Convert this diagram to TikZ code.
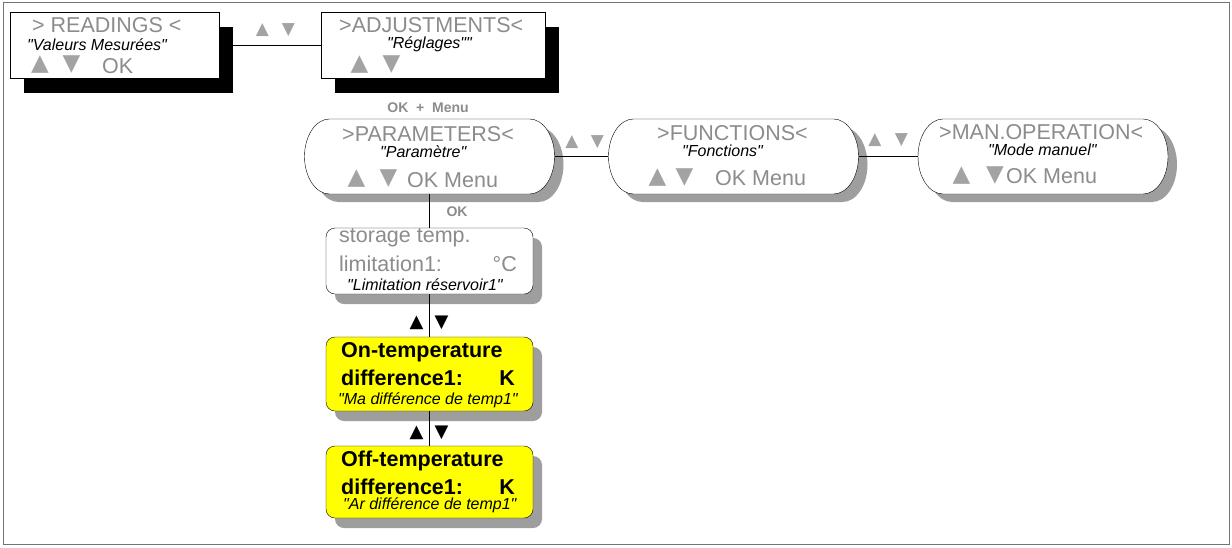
\documentclass[tikz,border=0pt]{standalone}
\usepackage{fontspec}
\setmainfont{Liberation Sans}[Ligatures=TeXOff]
\newfontfamily\symfont{DejaVu Sans}
\usetikzlibrary{shadows}

\definecolor{menugray}{gray}{0.55}
\definecolor{keygray}{gray}{0.64}
\definecolor{shadegray}{gray}{0.62}
\definecolor{lcdyellow}{RGB}{255,255,0}

\tikzset{
  topbox/.style={draw, fill=white, inner sep=0, minimum height=66pt,
    drop shadow={shadow xshift=14pt, shadow yshift=-15pt, fill=black, opacity=1}},
  menuoval/.style={inner sep=0, minimum width=250pt, minimum height=75pt},
  menuline/.style={draw, fill=white,
    drop shadow={shadow xshift=9pt, shadow yshift=-8pt, fill=shadegray, opacity=1}},
  valbox/.style={draw, fill=white, inner sep=0, rounded corners=9pt, minimum width=207pt,
    drop shadow={shadow xshift=9pt, shadow yshift=-10pt, fill=shadegray, opacity=1}},
  lcd/.style={inner sep=0, anchor=base west, text=menugray, font=\fontsize{21.5}{24}\selectfont},
  hint/.style={inner sep=0, anchor=base west, font=\fontsize{16}{18}\selectfont\itshape},
  value/.style={inner sep=0, anchor=base west, font=\fontsize{21.5}{24}\selectfont\bfseries},
  key/.style={inner sep=0, text=keygray, font=\symfont\fontsize{23}{23}\selectfont},
  smallkey/.style={inner sep=0, text=keygray, font=\symfont\fontsize{17}{17}\selectfont},
  blackkey/.style={inner sep=0, font=\symfont\fontsize{18}{18}\selectfont},
  keylabel/.style={inner sep=0, text=menugray, font=\fontsize{14}{16}\selectfont\bfseries}
}

% oval menu outline, centre x / centre y
\newcommand\menushape[2]{%
  \path[menuline] (#1-100,#2-37.5) -- (#1+100,#2-37.5)
    arc[start angle=-90, end angle=90, x radius=25, y radius=37.5]
    -- (#1-100,#2+37.5)
    arc[start angle=90, end angle=270, x radius=25, y radius=37.5] -- cycle;}

\begin{document}
\begin{tikzpicture}[x=1pt,y=-1pt]
\useasboundingbox (0,0) rectangle (1232,547);
\draw[black!55] (3,2) rectangle (1229,544);

% top level
\node[topbox, minimum width=209pt] (readings) at (114.5,45) {};
\node[topbox, minimum width=224pt] (adjust) at (433,45) {};
\draw (readings.east) -- (adjust.west);
\node[smallkey] (top-up) at (262.5,30.5) {▲};
\node[smallkey] (top-dn) at (288.5,30.5) {▼};

\node[lcd] (readings-t) at (32,32) {> READINGS <};
\node[hint] (readings-h) at (27,50) {"Valeurs Mesurées"};
\node[key] (readings-up) at (40,65) {▲};
\node[key] (readings-dn) at (71.5,65) {▼};
\node[lcd] (readings-ok) at (102,73) {OK};

\node[lcd] (adjust-t) at (339,32) {>ADJUSTMENTS<};
\node[hint] (adjust-h) at (387,48) {"Réglages""};
\node[key] (adjust-up) at (359.5,65) {▲};
\node[key] (adjust-dn) at (391.5,65) {▼};

\node[keylabel] (okmenu) at (428,108) {OK~~+~~Menu};

% menu level
\menushape{429.5}{156.5}
\menushape{733.5}{156.5}
\menushape{1043}{156.5}
\node[menuoval] (params) at (429.5,156.5) {};
\node[menuoval] (funcs) at (733.5,156.5) {};
\node[menuoval] (manop) at (1043,156.5) {};
\draw (params.east) -- (funcs.west);
\draw (funcs.east) -- (manop.west);
\node[smallkey] (pf-up) at (572,142) {▲};
\node[smallkey] (pf-dn) at (597.5,142) {▼};
\node[smallkey] (fm-up) at (875,140.5) {▲};
\node[smallkey] (fm-dn) at (901.5,140.5) {▼};

\node[lcd] (params-t) at (342,141) {>PARAMETERS<};
\node[hint] (params-h) at (380,157.5) {"Paramètre"};
\node[key] (params-up) at (356.5,179) {▲};
\node[key] (params-dn) at (388.5,179) {▼};
\node[lcd] (params-ok) at (407,187) {OK Menu};

\node[lcd] (funcs-t) at (657,140) {>FUNCTIONS<};
\node[hint] (funcs-h) at (682,156.5) {"Fonctions"};
\node[key] (funcs-up) at (657.5,178) {▲};
\node[key] (funcs-dn) at (684.5,178) {▼};
\node[lcd] (funcs-ok) at (715,185) {OK Menu};

\node[lcd] (manop-t) at (939,139) {>MAN.OPERATION<};
\node[hint] (manop-h) at (988,155.5) {"Mode manuel"};
\node[key] (manop-up) at (961.5,176) {▲};
\node[key] (manop-dn) at (995,176) {▼};
\node[lcd] (manop-ok) at (1006,183) {OK Menu};

% parameter level
\node[valbox, minimum height=66pt] (storage) at (429.5,261) {};
\node[valbox, minimum height=74pt, fill=lcdyellow] (ondiff) at (429.5,374) {};
\node[valbox, minimum height=72pt, fill=lcdyellow] (offdiff) at (429.5,482) {};
\draw (params.south) -- (storage.north);
\draw (storage.south) -- (ondiff.north);
\draw (ondiff.south) -- (offdiff.north);
\node[keylabel] (ok) at (457,212) {OK};

\node[lcd] (storage-t1) at (339,242) {storage temp.};
\node[lcd] (storage-t2) at (339,271) {limitation1:};
\node[lcd, anchor=base east] (storage-u) at (517,271) {°C};
\node[hint] (storage-h) at (347,290) {"Limitation réservoir1"};

\node[blackkey] (on-up) at (416.5,323) {▲};
\node[blackkey] (on-dn) at (441.5,323) {▼};
\node[value] (on-t1) at (341,357) {On-temperature};
\node[value] (on-t2) at (341,385) {difference1:};
\node[value, anchor=base east] (on-u) at (515,385) {K};
\node[hint] (on-h) at (338,404.5) {"Ma différence de temp1"};

\node[blackkey] (off-up) at (416.5,432.5) {▲};
\node[blackkey] (off-dn) at (441.5,432.5) {▼};
\node[value] (off-t1) at (341,466) {Off-temperature};
\node[value] (off-t2) at (341,494) {difference1:};
\node[value, anchor=base east] (off-u) at (515,494) {K};
\node[hint] (off-h) at (343,509) {"Ar différence de temp1"};
\end{tikzpicture}
\end{document}
